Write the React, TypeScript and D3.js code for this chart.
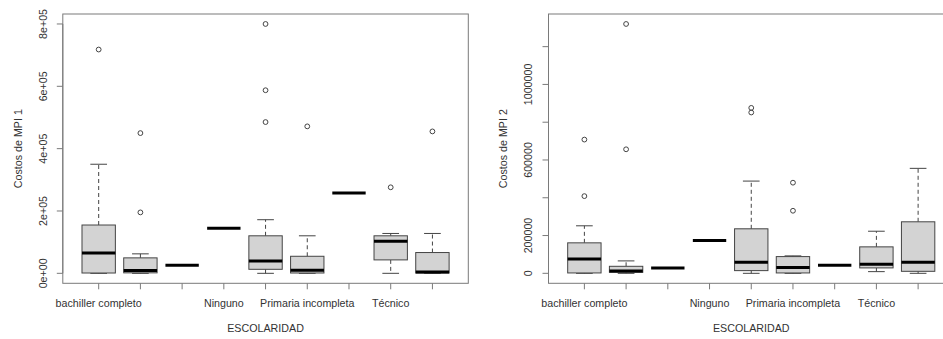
import React from "react";
import * as d3 from "d3";

// Group labels along the x axis (only some are printed, the rest would overlap)
const tickLabels = ["bachiller completo", "", "", "Ninguno", "", "Primaria incompleta", "", "Técnico", ""];

// Five-number summaries per group: [lower whisker, Q1, median, Q3, upper whisker]
const mpi1Stats: number[][] = [
  [0, 1000, 65000, 155000, 350000],
  [0, 1500, 8700, 49600, 62500],
  [25800, 25800, 25800, 25800, 25800],
  [145000, 145000, 145000, 145000, 145000],
  [0, 12900, 39900, 120400, 172000],
  [0, 1000, 9700, 54700, 120400],
  [257600, 257600, 257600, 257600, 257600],
  [0, 43100, 103000, 120400, 127900],
  [0, 1000, 4500, 66700, 127900],
];
const mpi1Outliers: number[][] = [
  [718000],
  [449900, 195500],
  [],
  [],
  [800000, 587400, 485300],
  [471500],
  [],
  [276000],
  [455300],
];

const mpi2Stats: number[][] = [
  [0, 2000, 76400, 161400, 251600],
  [0, 5300, 12700, 37200, 65800],
  [28700, 28700, 28700, 28700, 28700],
  [173600, 173600, 173600, 173600, 173600],
  [0, 14300, 58400, 235700, 488300],
  [0, 2000, 30300, 88600, 92300],
  [42500, 42500, 42500, 42500, 42500],
  [9000, 28700, 47800, 140100, 222900],
  [0, 10600, 58400, 272800, 555700],
];
const mpi2Outliers: number[][] = [
  [708000, 408700],
  [1320000, 656600],
  [],
  [],
  [875800, 851400],
  [479800, 331200],
  [],
  [],
  [],
];

const mpi1Ticks = [0, 200000, 400000, 600000, 800000];
const mpi1TickLabels = ["0e+00", "2e+05", "4e+05", "6e+05", "8e+05"];
const mpi2Ticks = [0, 200000, 400000, 600000, 800000, 1000000, 1200000];
const mpi2TickLabels = ["0", "200000", "", "600000", "", "1000000", ""];

const FONT = "Liberation Sans, Arial, sans-serif";
const FS = 10.7;
const TEXT = "#333";
const FRAME = "#7a7a7a";
const LINE = "#444";

type PanelProps = {
  left: number;
  right: number;
  stats: number[][];
  outliers: number[][];
  ticks: number[];
  yLabels: string[];
  yTitle: string;
  yLabelX: number;
  yTitleX: number;
};

function Panel({ left, right, stats, outliers, ticks, yLabels, yTitle, yLabelX, yTitleX }: PanelProps) {
  const top = 14;
  const bottom = 283.3;
  const n = stats.length;
  // R-style 4% padding around the data range
  const allVals = stats.flat().concat(outliers.flat());
  const [lo, hi] = d3.extent(allVals) as [number, number];
  const pad = (hi - lo) * 0.04;
  const y = d3.scaleLinear().domain([lo - pad, hi + pad]).range([bottom, top]);
  const xPad = n * 0.04;
  const x = d3.scaleLinear().domain([0.5 - xPad, n + 0.5 + xPad]).range([left, right]);
  const step = x(2) - x(1);
  const bw = step * 0.8;
  const sw = bw * 0.5;

  return (
    <g>
      {stats.map((s, i) => {
        const cx = x(i + 1);
        const [wl, q1, med, q3, wh] = s;
        return (
          <g key={i}>
            <line x1={cx} x2={cx} y1={y(q3)} y2={y(wh)} stroke={LINE} strokeDasharray="4,3" />
            <line x1={cx} x2={cx} y1={y(q1)} y2={y(wl)} stroke={LINE} strokeDasharray="4,3" />
            <line x1={cx - sw / 2} x2={cx + sw / 2} y1={y(wh)} y2={y(wh)} stroke={LINE} />
            <line x1={cx - sw / 2} x2={cx + sw / 2} y1={y(wl)} y2={y(wl)} stroke={LINE} />
            <rect
              x={cx - bw / 2}
              y={y(q3)}
              width={bw}
              height={Math.max(0, y(q1) - y(q3))}
              fill="#d3d3d3"
              stroke={LINE}
            />
            <line x1={cx - bw / 2} x2={cx + bw / 2} y1={y(med)} y2={y(med)} stroke="#000" strokeWidth={3} />
            {outliers[i].map((o, j) => (
              <circle key={j} cx={cx} cy={y(o)} r={2.4} fill="none" stroke={LINE} strokeWidth={1} />
            ))}
          </g>
        );
      })}
      <rect x={left} y={top} width={right - left} height={bottom - top} fill="none" stroke={FRAME} />
      {/* y axis */}
      <line x1={left} x2={left} y1={y(ticks[0])} y2={y(ticks[ticks.length - 1])} stroke={FRAME} />
      {ticks.map((t, i) => (
        <g key={i}>
          <line x1={left - 6} x2={left} y1={y(t)} y2={y(t)} stroke={FRAME} />
          {yLabels[i] && (
            <text
              transform={`translate(${yLabelX},${y(t)}) rotate(-90)`}
              textAnchor="middle"
              dominantBaseline="central"
              fontFamily={FONT}
              fontSize={FS}
              fill={TEXT}
            >
              {yLabels[i]}
            </text>
          )}
        </g>
      ))}
      <text
        transform={`translate(${yTitleX},${(top + bottom) / 2}) rotate(-90)`}
        textAnchor="middle"
        dominantBaseline="central"
        fontFamily={FONT}
        fontSize={FS}
        fill={TEXT}
      >
        {yTitle}
      </text>
      {/* x axis */}
      {d3.range(1, n + 1).map((k, i) => (
        <g key={k}>
          <line x1={x(k)} x2={x(k)} y1={bottom} y2={bottom + 6} stroke={FRAME} />
          {tickLabels[i] && (
            <text
              x={x(k)}
              y={303}
              textAnchor="middle"
              dominantBaseline="central"
              fontFamily={FONT}
              fontSize={FS}
              fill={TEXT}
            >
              {tickLabels[i]}
            </text>
          )}
        </g>
      ))}
      <text
        x={(left + right) / 2}
        y={328.3}
        textAnchor="middle"
        dominantBaseline="central"
        fontFamily={FONT}
        fontSize={FS}
        fill={TEXT}
      >
        ESCOLARIDAD
      </text>
    </g>
  );
}

export default function App() {
  return (
    <svg
      width={943}
      height={339}
      style={{ position: "fixed", left: 0, top: 0, background: "#fff", display: "block" }}
    >
      <rect width={943} height={339} fill="#fff" />
      <Panel
        left={62.8}
        right={468.3}
        stats={mpi1Stats}
        outliers={mpi1Outliers}
        ticks={mpi1Ticks}
        yLabels={mpi1TickLabels}
        yTitle="Costos de MPI 1"
        yLabelX={43.3}
        yTitleX={18.3}
      />
      <Panel
        left={548.5}
        right={954}
        stats={mpi2Stats}
        outliers={mpi2Outliers}
        ticks={mpi2Ticks}
        yLabels={mpi2TickLabels}
        yTitle="Costos de MPI 2"
        yLabelX={528.3}
        yTitleX={503.3}
      />
    </svg>
  );
}
